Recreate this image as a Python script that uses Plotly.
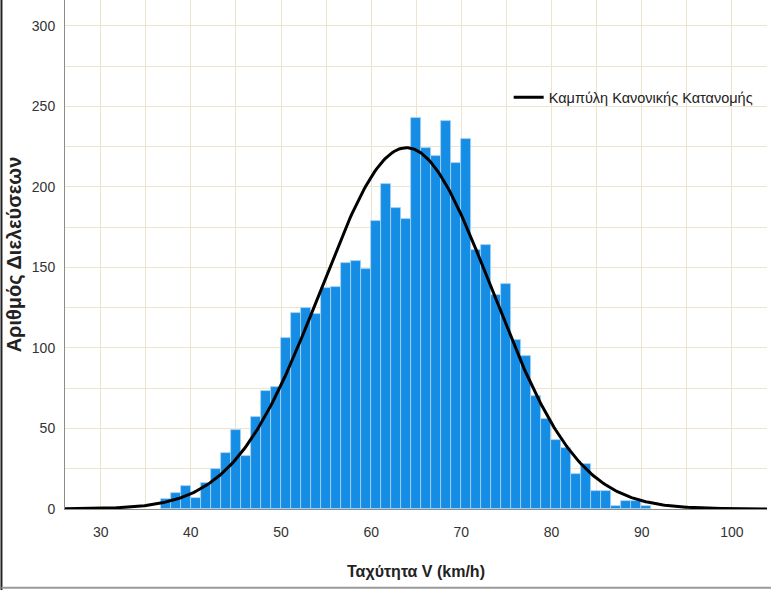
import numpy as np
import plotly.graph_objects as go

# Histogram of recorded speeds (counts per bin)
BIN_START = 36.66          # left edge of the first bin (km/h)
BIN_WIDTH = 1.109          # bin width (km/h)
counts = [
    6, 10, 14, 7, 16, 25, 35, 49, 33, 57, 73, 76,
    106, 122, 125, 121, 137, 138, 153, 154, 149, 179, 202, 187, 180,
    243, 224, 219, 241, 215, 230,
    161, 164, 133, 140, 105, 95, 70, 56, 43, 38, 22, 28, 11, 11, 2, 5, 5, 2,
]

# Fitted normal distribution parameters
MEAN_SPEED = 63.9
SD_SPEED = 9.5

x_tick_values = [30, 40, 50, 60, 70, 80, 90, 100]
y_tick_values = [0, 50, 100, 150, 200, 250, 300]

x_title = "Ταχύτητα V (km/h)"
y_title = "Αριθμός Διελεύσεων"
curve_name = "Καμπύλη Κανονικής Κατανομής"

X_RANGE = [26.04, 103.9]
Y_RANGE = [0, 316.1]

counts_arr = np.array(counts, dtype=float)
centers = BIN_START + BIN_WIDTH * (np.arange(len(counts)) + 0.5)
n_total = counts_arr.sum()

# Normal curve scaled to the histogram (count per bin)
xs = np.linspace(X_RANGE[0], X_RANGE[1], 400)
ys = n_total * BIN_WIDTH / (SD_SPEED * np.sqrt(2 * np.pi)) * np.exp(
    -0.5 * ((xs - MEAN_SPEED) / SD_SPEED) ** 2
)

NARROW = "Liberation Sans Narrow, Arial Narrow, Liberation Sans, Arial, sans-serif"
BOLD = "Liberation Sans, Arial, sans-serif"
GRID = "#ece4cc"

fig = go.Figure()
fig.add_trace(go.Bar(
    x=centers, y=counts_arr, width=BIN_WIDTH,
    marker=dict(color="#168de4", line=dict(color="#a9d4f5", width=0.8)),
    showlegend=False, hoverinfo="x+y",
))
fig.add_trace(go.Scatter(
    x=xs, y=ys, mode="lines", name=curve_name,
    line=dict(color="#000000", width=3),
))

fig.update_layout(
    width=771, height=590,
    margin=dict(l=65, r=4, t=0, b=81),
    paper_bgcolor="white", plot_bgcolor="white",
    bargap=0,
    showlegend=True,
    legend=dict(
        x=0.632, y=0.84, xanchor="left", yanchor="top",
        bgcolor="rgba(0,0,0,0)",
        font=dict(family=NARROW, size=14.5, color="#222222"),
        itemwidth=30,
    ),
    xaxis=dict(
        range=X_RANGE, tickvals=x_tick_values,
        showgrid=True, gridcolor=GRID, gridwidth=1,
        minor=dict(dtick=5, tick0=0, showgrid=True, gridcolor=GRID, gridwidth=1),
        zeroline=False, showline=True, linecolor="#8c8c8c", linewidth=1,
        ticks="outside", ticklen=0, ticklabelstandoff=10,
        tickfont=dict(family=NARROW, size=14, color="#333333"),
        title=dict(text=x_title, standoff=27,
                   font=dict(family=BOLD, size=16, color="#222222", weight="bold")),
    ),
    yaxis=dict(
        range=Y_RANGE, tickvals=y_tick_values,
        showgrid=True, gridcolor=GRID, gridwidth=1,
        minor=dict(dtick=25, tick0=0, showgrid=True, gridcolor=GRID, gridwidth=1),
        zeroline=False, showline=True, linecolor="#8c8c8c", linewidth=1,
        ticks="outside", ticklen=0, ticklabelstandoff=6,
        tickfont=dict(family=NARROW, size=14, color="#333333"),
        title=dict(text=y_title, standoff=4,
                   font=dict(family=BOLD, size=20, color="#222222", weight="bold")),
    ),
    shapes=[
        dict(type="line", xref="paper", yref="paper",
             x0=-0.0905, x1=-0.0905, y0=-0.16, y1=1.0,
             line=dict(color="#222222", width=2)),
        dict(type="line", xref="paper", yref="paper",
             x0=-0.0905, x1=1.006, y0=-0.1546, y1=-0.1546,
             line=dict(color="#9a9a9a", width=2)),
    ],
)

fig.write_html("out.html")
